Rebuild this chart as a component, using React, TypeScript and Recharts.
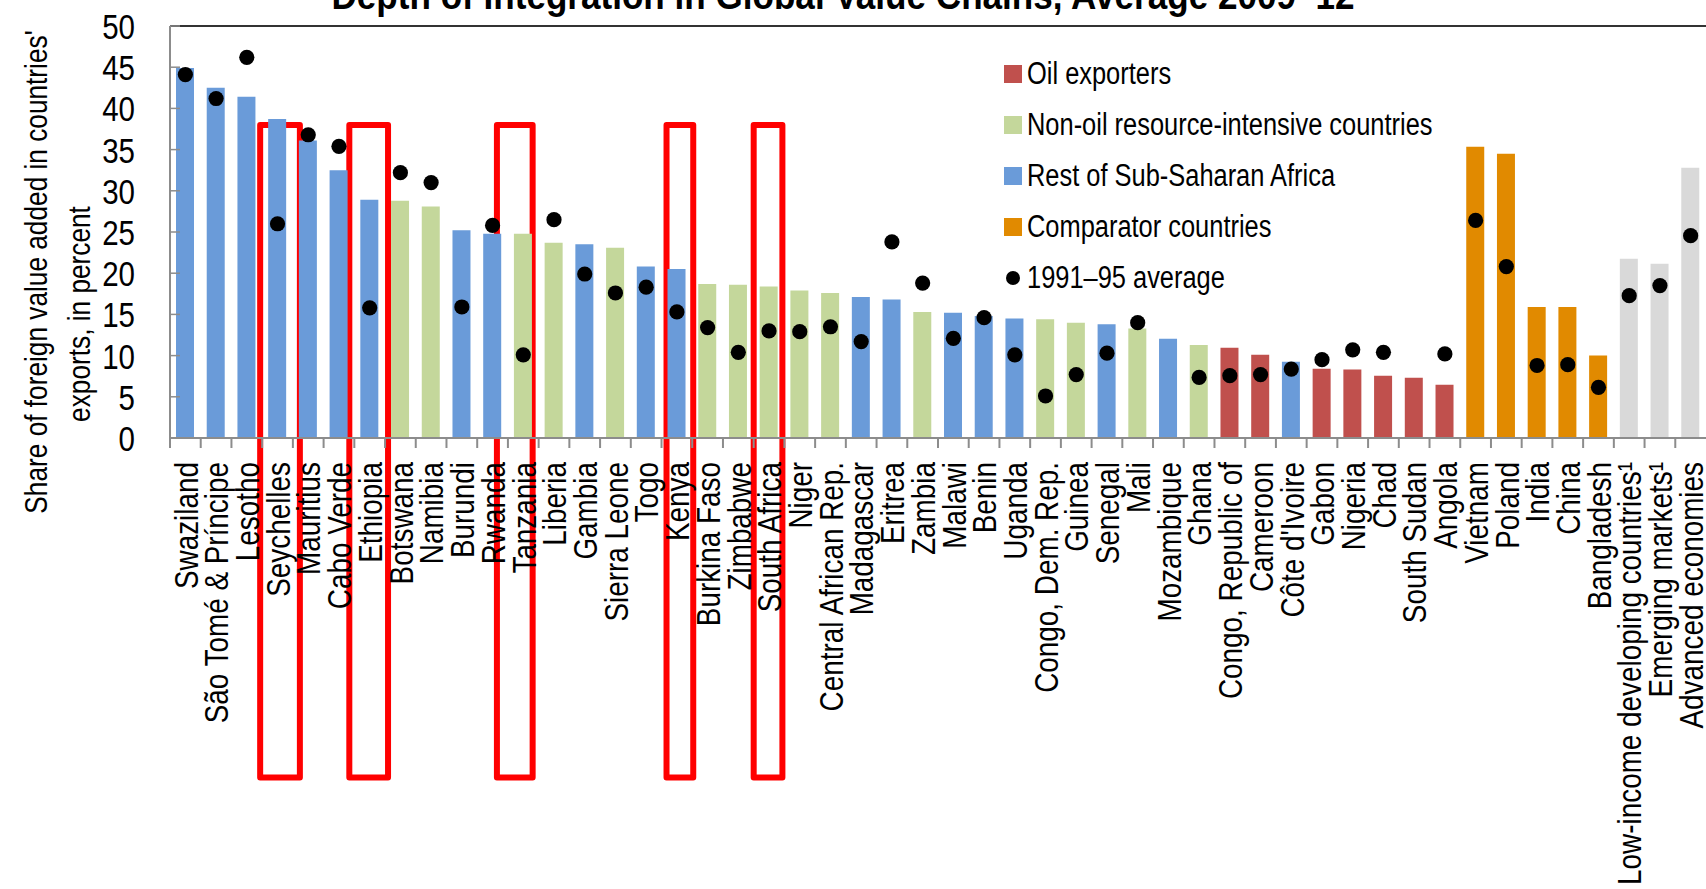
import {
  Bar,
  Cell,
  ComposedChart,
  Line,
  ReferenceArea,
  ReferenceLine,
  XAxis,
  YAxis,
} from "recharts";

// Countries in plotted order (sorted by 2009–12 share within the SSA block).
const countries = [
  "Swaziland",
  "São Tomé & Príncipe",
  "Lesotho",
  "Seychelles",
  "Mauritius",
  "Cabo Verde",
  "Ethiopia",
  "Botswana",
  "Namibia",
  "Burundi",
  "Rwanda",
  "Tanzania",
  "Liberia",
  "Gambia",
  "Sierra Leone",
  "Togo",
  "Kenya",
  "Burkina Faso",
  "Zimbabwe",
  "South Africa",
  "Niger",
  "Central African Rep.",
  "Madagascar",
  "Eritrea",
  "Zambia",
  "Malawi",
  "Benin",
  "Uganda",
  "Congo, Dem. Rep.",
  "Guinea",
  "Senegal",
  "Mali",
  "Mozambique",
  "Ghana",
  "Congo, Republic of",
  "Cameroon",
  "Côte d'Ivoire",
  "Gabon",
  "Nigeria",
  "Chad",
  "South Sudan",
  "Angola",
  "Vietnam",
  "Poland",
  "India",
  "China",
  "Bangladesh",
  "Low-income developing countries¹",
  "Emerging markets¹",
  "Advanced economies",
];

// o = oil exporters, n = non-oil resource-intensive, r = rest of SSA,
// c = comparator countries, g = country groups
const groups = [
  "r", "r", "r", "r", "r", "r", "r", "n", "n", "r",
  "r", "n", "n", "r", "n", "r", "r", "n", "n", "n",
  "n", "n", "r", "r", "n", "r", "r", "r", "n", "n",
  "r", "n", "r", "n", "o", "o", "r", "o", "o", "o",
  "o", "o", "c", "c", "c", "c", "c", "g", "g", "g",
];

// Foreign value added share of exports, average 2009–12
const share200912 = [
  44.9, 42.5, 41.4, 38.7, 36.1, 32.5, 28.9, 28.8, 28.1, 25.2,
  24.8, 24.8, 23.7, 23.5, 23.1, 20.8, 20.5, 18.7, 18.6, 18.4,
  17.9, 17.6, 17.1, 16.8, 15.3, 15.2, 14.8, 14.5, 14.4, 14.0,
  13.8, 13.3, 12.05, 11.3, 10.96, 10.1, 9.26, 8.4, 8.3, 7.56,
  7.3, 6.47, 35.35, 34.5, 15.9, 15.9, 10.0, 21.76, 21.15, 32.8,
];

// Same measure, 1991–95 average (no figure for Mozambique, South Sudan)
const share199195: (number | null)[] = [
  44.1, 41.2, 46.2, 26.0, 36.8, 35.4, 15.8, 32.2, 31.0, 15.9,
  25.8, 10.1, 26.5, 19.9, 17.6, 18.3, 15.3, 13.4, 10.4, 13.0,
  12.9, 13.5, 11.7, 23.8, 18.8, 12.1, 14.6, 10.1, 5.1, 7.7,
  10.3, 14.0, null, 7.35, 7.56, 7.7, 8.37, 9.5, 10.7, 10.4,
  null, 10.2, 26.4, 20.8, 8.8, 8.9, 6.15, 17.27, 18.5, 24.55,
];

const yTicks = [0, 5, 10, 15, 20, 25, 30, 35, 40, 45, 50];

const legendItems = [
  { label: "Oil exporters", group: "o" },
  { label: "Non-oil resource-intensive countries", group: "n" },
  { label: "Rest of Sub-Saharan Africa", group: "r" },
  { label: "Comparator countries", group: "c" },
];
const dotLabel = "1991–95 average";

// Highlighted countries, boxed from the top value down through the labels
const boxed = ["Seychelles", "Ethiopia", "Tanzania", "Kenya", "South Africa"];
const boxTop = 38;
const boxBottom = -41.2;

const colors: Record<string, string> = {
  o: "#C0504D",
  n: "#C4D79B",
  r: "#6A9BD9",
  c: "#E18A00",
  g: "#D9D9D9",
};

const W = 1706;
const H = 889;
const Y_AXIS_W = 170;
const TOP = 26;
const X_AXIS_H = 451;
const AXIS_Y = H - X_AXIS_H;
const BAND = (W - Y_AXIS_W) / countries.length;
// no narrow face installed: condense the regular sans along the text run
const FONT = "'Liberation Sans', Arial, sans-serif";
const SQUEEZE = 0.82;
const AXIS_GRAY = "#8C8C8C";

// horizontal slack around each highlighted band [left, right]
const boxSlack: Record<string, [number, number]> = {
  Seychelles: [2, 7],
  Ethiopia: [5, 3],
  Tanzania: [11, -6],
  Kenya: [-5, 1],
  "South Africa": [0, -2],
};

const rows = countries.map((name, i) => ({
  name,
  group: groups[i],
  value: share200912[i],
  avg: share199195[i],
}));

function CategoryTick(props: any) {
  const { x, payload } = props;
  const left = x - BAND / 2;
  return (
    <g>
      <line
        x1={left}
        y1={AXIS_Y}
        x2={left}
        y2={AXIS_Y + 10}
        stroke={AXIS_GRAY}
        strokeWidth={2}
      />
      <text
        transform={`translate(${x},${AXIS_Y + 24}) rotate(-90) scale(${SQUEEZE},1)`}
        textAnchor="end"
        dy="0.36em"
        fontFamily={FONT}
        fontSize={34}
        fill="#000"
      >
        {payload.value}
      </text>
    </g>
  );
}

function ValueTick(props: any) {
  const { x, y, payload } = props;
  return (
    <text
      transform={`translate(${x},${y}) scale(${SQUEEZE},1)`}
      textAnchor="end"
      dy="0.36em"
      fontFamily={FONT}
      fontSize={36}
      fill="#000"
    >
      {payload.value}
    </text>
  );
}

function AvgDot(props: any) {
  const { cx, cy, payload, index } = props;
  if (payload == null || payload.avg == null || cy == null) {
    return <g key={`d${index}`} />;
  }
  return <circle key={`d${index}`} cx={cx} cy={cy} r={7.6} fill="#000" />;
}

function BoxShape(props: any) {
  const { x, y, width, height, name } = props;
  const [l, r] = boxSlack[name] ?? [0, 0];
  return (
    <rect
      x={x - l}
      y={y}
      width={width + l + r}
      height={height}
      fill="none"
      stroke="#FF0000"
      strokeWidth={6}
      strokeLinejoin="round"
    />
  );
}

function LegendBox() {
  const row = { display: "flex", alignItems: "center", height: 51 } as const;
  const label = {
    display: "inline-block",
    transform: `scaleX(${SQUEEZE})`,
    transformOrigin: "left center",
    whiteSpace: "nowrap",
  } as const;
  return (
    <div
      style={{
        position: "absolute",
        left: 1004,
        top: 48,
        width: 600,
        fontFamily: FONT,
        fontSize: 31,
        color: "#000",
      }}
    >
      {legendItems.map((it) => (
        <div key={it.group} style={row}>
          <span
            style={{
              width: 18,
              height: 18,
              background: colors[it.group],
              marginRight: 5,
              display: "inline-block",
            }}
          />
          <span style={label}>{it.label}</span>
        </div>
      ))}
      <div style={row}>
        <span
          style={{
            width: 14,
            height: 14,
            borderRadius: 7,
            background: "#000",
            margin: "0 7px 0 2px",
            display: "inline-block",
          }}
        />
        <span style={label}>{dotLabel}</span>
      </div>
    </div>
  );
}

export default function App() {
  return (
    <div
      style={{
        position: "absolute",
        left: 0,
        top: 0,
        width: W,
        height: H,
        background: "#fff",
        overflow: "hidden",
      }}
    >
      <ComposedChart
        width={W}
        height={H}
        data={rows}
        margin={{ top: TOP, right: 0, bottom: 0, left: 0 }}
      >
        <XAxis
          dataKey="name"
          interval={0}
          height={X_AXIS_H}
          tickSize={0}
          tickMargin={0}
          tickLine={false}
          axisLine={{ stroke: AXIS_GRAY, strokeWidth: 2 }}
          tick={<CategoryTick />}
        />
        <YAxis
          width={Y_AXIS_W}
          domain={[0, 50]}
          ticks={yTicks}
          interval={0}
          tickSize={-10}
          tickMargin={45}
          axisLine={{ stroke: AXIS_GRAY, strokeWidth: 2 }}
          tickLine={{ stroke: AXIS_GRAY, strokeWidth: 1.5 }}
          tick={<ValueTick />}
        />
        <ReferenceLine y={50} stroke="#333" strokeWidth={2} ifOverflow="visible" />
        <Bar dataKey="value" barSize={18} isAnimationActive={false}>
          {rows.map((r) => (
            <Cell key={r.name} fill={colors[r.group]} />
          ))}
        </Bar>
        <Line
          dataKey="avg"
          stroke="none"
          dot={<AvgDot />}
          activeDot={false}
          isAnimationActive={false}
          legendType="none"
        />
        {boxed.map((name) => (
          <ReferenceArea
            key={name}
            x1={name}
            x2={name}
            y1={boxBottom}
            y2={boxTop}
            ifOverflow="visible"
            shape={(p: any) => <BoxShape {...p} name={name} />}
          />
        ))}
      </ComposedChart>
      <LegendBox />
      <svg
        width={W}
        height={H}
        style={{ position: "absolute", left: 0, top: 0, pointerEvents: "none" }}
      >
        <text
          x={843}
          y={9}
          textAnchor="middle"
          fontFamily={FONT}
          fontWeight="bold"
          fontSize={38}
          textLength={1023}
          lengthAdjust="spacingAndGlyphs"
        >
          Depth of Integration in Global Value Chains, Average 2009–12
        </text>
        <g fontFamily={FONT} fontSize={32} fill="#000" textAnchor="middle">
          <text
            transform={`translate(35,272) rotate(-90) scale(${SQUEEZE},1)`}
            dy="0.36em"
          >
            Share of foreign value added in countries'
          </text>
          <text
            transform={`translate(78,314) rotate(-90) scale(${SQUEEZE},1)`}
            dy="0.36em"
          >
            exports, in percent
          </text>
        </g>
      </svg>
    </div>
  );
}
